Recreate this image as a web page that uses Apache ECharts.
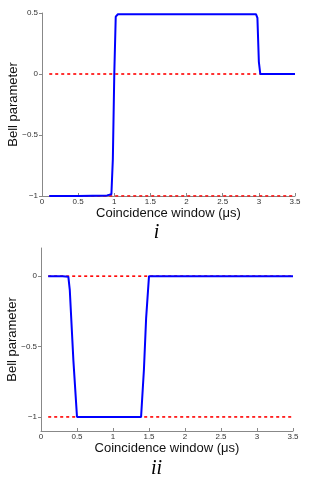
<!DOCTYPE html>
<html><head><meta charset="utf-8">
<script src="https://cdn.jsdelivr.net/npm/echarts@6/dist/echarts.min.js"></script>
<style>html,body{margin:0;padding:0;background:#fff}#c{width:313px;height:486px}</style>
</head><body><div id="c"></div>
<script>
// Panel i
const xTop = [0.1, 0.5, 0.9, 0.96, 0.98, 1.0, 1.02, 1.05, 1.5, 2.0, 2.5, 2.96, 2.98, 3.0, 3.02, 3.5];
const yTop = [-1, -1, -0.995, -0.985, -0.7, 0, 0.47, 0.49, 0.49, 0.49, 0.49, 0.49, 0.46, 0.1, 0, 0];
// Panel ii
const xBot = [0.1, 0.3, 0.38, 0.4, 0.45, 0.5, 0.8, 1.2, 1.39, 1.43, 1.46, 1.5, 2.0, 2.5, 3.0, 3.5];
const yBot = [0, 0, -0.005, -0.1, -0.6, -1, -1, -1, -1, -0.66, -0.3, 0, 0, 0, 0, 0];
const refTop = [[0.1, 0], [3.5, 0]];
const refTop2 = [[0.1, -1], [3.5, -1]];
const refBot = [[0.1, 0], [3.5, 0]];
const refBot2 = [[0.1, -1], [3.5, -1]];
const xTicks = [0, 0.5, 1, 1.5, 2, 2.5, 3, 3.5];
const yTicksTop = [-1, -0.5, 0, 0.5];
const yTicksBot = [-1, -0.5, 0];

const fmt = v => (v < 0 ? '\u2212' + String(-v) : String(v));
const axisCol = '#888';
const lblStyle = {color: '#333', fontSize: 8, fontFamily: 'Liberation Sans, Arial, sans-serif'};
function xAx(gi) {
  return {type: 'value', gridIndex: gi, min: 0, max: 3.5, interval: 0.5,
    axisLine: {show: true, onZero: false, lineStyle: {color: axisCol, width: 1}},
    axisTick: {show: true, length: 3, inside: true, customValues: xTicks, lineStyle: {color: axisCol}},
    axisLabel: Object.assign({margin: 2, formatter: fmt, customValues: xTicks}, lblStyle),
    splitLine: {show: false},
    name: 'Coincidence window (\u03bcs)', nameLocation: 'middle', nameGap: 11, nameMoveOverlap: false,
    nameTextStyle: {fontSize: 13, color: '#111', fontFamily: 'Liberation Sans, Arial, sans-serif'}};
}
function yAx(gi, min, max, ticks) {
  return {type: 'value', gridIndex: gi, min: min, max: max,
    axisLine: {show: true, onZero: false, lineStyle: {color: axisCol, width: 1}},
    axisTick: {show: true, length: 3, customValues: ticks, lineStyle: {color: axisCol}},
    axisLabel: Object.assign({margin: 4, formatter: fmt, customValues: ticks}, lblStyle),
    splitLine: {show: false},
    name: 'Bell parameter', nameLocation: 'middle', nameGap: 22, nameRotate: 90, nameMoveOverlap: false,
    nameTextStyle: {fontSize: 13, color: '#111', fontFamily: 'Liberation Sans, Arial, sans-serif'}};
}
const red = {color: '#ff0000', width: 1.6, type: [3, 3]};
const blue = {color: '#0000ff', width: 2};
function zip(a, b) { return a.map((v, i) => [v, b[i]]); }
const chart = echarts.init(document.getElementById('c'));
chart.setOption({
  animation: false,
  grid: [
    {left: 42, right: 18, top: 13, bottom: 290, containLabel: false, outerBoundsMode: 'none'},
    {left: 41, right: 20, top: 248, bottom: 55, containLabel: false, outerBoundsMode: 'none'}
  ],
  xAxis: [xAx(0), xAx(1)],
  yAxis: [yAx(0, -1, 0.5, yTicksTop), yAx(1, -1.1, 0.2, yTicksBot)],
  graphic: [
    {type: 'text', left: 'center', top: 223, style: {text: 'i', fontSize: 20, fontStyle: 'italic', fontFamily: 'Liberation Serif, Times New Roman, serif', fill: '#000'}},
    {type: 'text', left: 'center', top: 459, style: {text: 'ii', fontSize: 20, fontStyle: 'italic', fontFamily: 'Liberation Serif, Times New Roman, serif', fill: '#000'}}
  ],
  series: [
    {type: 'line', xAxisIndex: 0, yAxisIndex: 0, data: refTop, symbol: 'none', lineStyle: red, z: 1},
    {type: 'line', xAxisIndex: 0, yAxisIndex: 0, data: refTop2, symbol: 'none', lineStyle: red, z: 1},
    {type: 'line', xAxisIndex: 0, yAxisIndex: 0, data: zip(xTop, yTop), symbol: 'none', lineStyle: blue, z: 2},
    {type: 'line', xAxisIndex: 1, yAxisIndex: 1, data: refBot, symbol: 'none', lineStyle: red, z: 1},
    {type: 'line', xAxisIndex: 1, yAxisIndex: 1, data: refBot2, symbol: 'none', lineStyle: red, z: 1},
    {type: 'line', xAxisIndex: 1, yAxisIndex: 1, data: zip(xBot, yBot), symbol: 'none', lineStyle: blue, z: 2}
  ]
});
</script></body></html>
